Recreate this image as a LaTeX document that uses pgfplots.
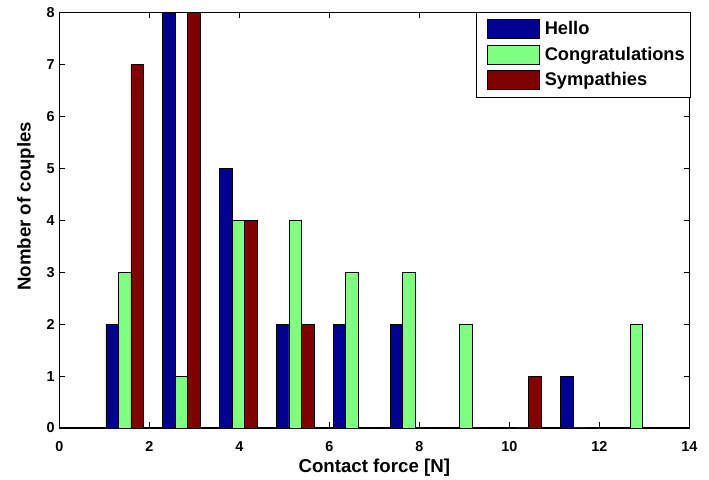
\documentclass[border=0pt]{standalone}
\usepackage{fontspec}
\setmainfont{Liberation Sans}
\usepackage{pgfplots}
\pgfplotsset{compat=1.18}
\definecolor{cblue}{rgb}{0,0,0.5625}
\definecolor{cgreen}{rgb}{0.5,1,0.5}
\definecolor{cred}{rgb}{0.5,0,0}
\begin{document}
\begin{tikzpicture}
\begin{axis}[
  at={(0pt,0pt)}, anchor=south west,
  scale only axis, width=472.5pt, height=311.5pt,
  xmin=0, xmax=14, ymin=0, ymax=8,
  xtick={0,2,...,14}, ytick={0,1,...,8},
  tick pos=both, tick align=inside, major tick length=4.3pt,
  axis line style={line width=0.8pt},
  every tick/.style={black, line width=0.6pt},
  /pgf/number format/assume math mode=true,
  ticklabel style={font=\fontsize{10.8}{12}\selectfont\bfseries},
  xticklabel style={anchor=base, yshift=-17.3pt},
  every axis x label/.style={at={(axis description cs:0.5,0)}, anchor=base, yshift=-33.5pt},
  every axis y label/.style={at={(axis description cs:-0.0533,0.534)}, anchor=center, rotate=90},
  label style={font=\fontsize{14}{16}\selectfont\bfseries},
  xlabel={Contact force [N]},
  ylabel={Nomber of couples},
  legend style={at={(rel axis cs:1.002,1.002)}, anchor=north east, draw=black, line width=0.6pt,
    inner xsep=3.5pt, inner ysep=5.4pt, row sep=4.1pt,
    font=\fontsize{13.7}{15}\selectfont\bfseries,
    nodes={inner sep=0.5pt, text height=10pt, text depth=3pt},
    /tikz/every odd column/.append style={column sep=3.7pt}},
  legend cell align=left,
  legend image code/.code={\path (0pt,0pt); \draw[#1, line width=0.4pt] (4.5pt,-6.2pt) rectangle (43.5pt,7.8pt);},
]
\addplot[ybar, bar width=0.278, bar shift=-0.278, fill=cblue, draw=black, line width=0.4pt] coordinates {
(1.45,2) (2.71,8) (3.98,5) (5.24,2) (6.50,2) (7.77,2) (9.03,0) (10.29,0) (11.56,1) (12.82,0)};
\addlegendentry{Hello}
\addplot[ybar, bar width=0.278, bar shift=0, fill=cgreen, draw=black, line width=0.4pt] coordinates {
(1.45,3) (2.71,1) (3.98,4) (5.24,4) (6.50,3) (7.77,3) (9.03,2) (10.29,0) (11.56,0) (12.82,2)};
\addlegendentry{Congratulations}
\addplot[ybar, bar width=0.278, bar shift=0.278, fill=cred, draw=black, line width=0.4pt] coordinates {
(1.45,7) (2.71,8) (3.98,4) (5.24,2) (6.50,0) (7.77,0) (9.03,0) (10.29,1) (11.56,0) (12.82,0)};
\addlegendentry{Sympathies}
\end{axis}
\pgfresetboundingbox
\path (-44.5pt,-39pt) rectangle (487.3pt,321pt);
\end{tikzpicture}
\end{document}
